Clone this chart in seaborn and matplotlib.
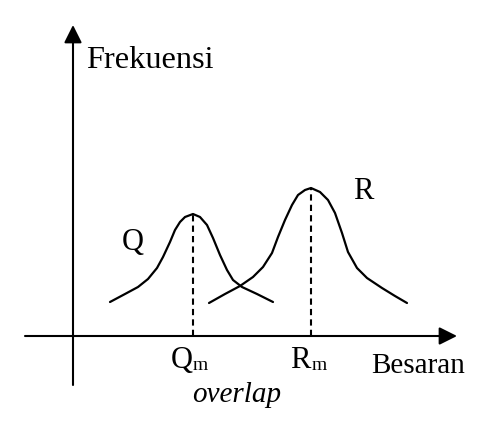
import matplotlib
matplotlib.use('Agg')
import pandas as pd
import matplotlib.pyplot as plt
import seaborn as sns
from matplotlib.patches import FancyArrowPatch

# bell curves (origin at axis crossing, y up, pixel units)
q_x = [37, 52, 65, 75, 84, 90, 97, 102, 107, 112, 120, 127, 134, 140, 147, 154, 160, 169, 184, 200]
q_y = [34, 42, 49, 57, 68, 79, 94, 106, 114, 119, 122, 119, 111, 98, 81, 66, 56, 49, 42, 34]
r_x = [136, 152, 167, 180, 190, 199, 205, 212, 219, 225, 232, 238, 247, 255, 262, 269, 275, 284, 294, 309, 322, 334]
r_y = [33, 42, 50, 59, 69, 83, 99, 116, 131, 141, 146, 148, 144, 136, 123, 103, 84, 68, 58, 48, 40, 33]

# peak positions (Qm, Rm)
peak_x = [120, 238]
peak_y = [122, 148]

sns.set_theme(style="white")
plt.rcParams['font.family'] = ['Liberation Serif', 'DejaVu Serif']
INK = "black"

curves = pd.concat([
    pd.DataFrame({"x": q_x, "y": q_y, "kurva": "Q"}),
    pd.DataFrame({"x": r_x, "y": r_y, "kurva": "R"}),
])

fig = plt.figure(figsize=(4.83, 4.32), dpi=100)
ax = fig.add_axes([0, 0, 1, 1])
ax.set_xlim(-73, 410)
ax.set_ylim(-96, 336)
ax.axis('off')

sns.lineplot(data=curves, x="x", y="y", hue="kurva", palette=[INK, INK],
             sort=False, estimator=None, linewidth=1.6, legend=False, ax=ax)

# dashed lines from peaks to the x axis
for px, py in zip(peak_x, peak_y):
    ax.plot([px, px], [0, py], color=INK, linewidth=1.5, dashes=(3, 2))

# axes with arrow heads
for start, end in [((-48, 0), (384, 0)), ((0, -49), (0, 311))]:
    ax.add_patch(FancyArrowPatch(start, end, arrowstyle='-|>,head_length=0.4,head_width=0.2',
                                 mutation_scale=27, color=INK, linewidth=1.5,
                                 shrinkA=0, shrinkB=0))

ax.text(13, 268, "Frekuensi", fontsize=23.3, ha='left', va='baseline', color=INK)
ax.text(49, 86, "Q", fontsize=22, ha='left', va='baseline', color=INK)
ax.text(280, 137, "R", fontsize=22, ha='left', va='baseline', color=INK)
ax.text(98, -32, "Q", fontsize=22, ha='left', va='baseline', color=INK)
ax.text(120, -34, "m", fontsize=14, ha='left', va='baseline', color=INK)
ax.text(217, -32, "R", fontsize=22, ha='left', va='baseline', color=INK)
ax.text(239, -34, "m", fontsize=14, ha='left', va='baseline', color=INK)
ax.text(298, -37, "Besaran", fontsize=21, ha='left', va='baseline', color=INK)
ax.text(119, -66, "overlap", fontsize=21, style='italic', ha='left', va='baseline', color=INK)

plt.savefig("out.png", dpi=100)
plt.close()
